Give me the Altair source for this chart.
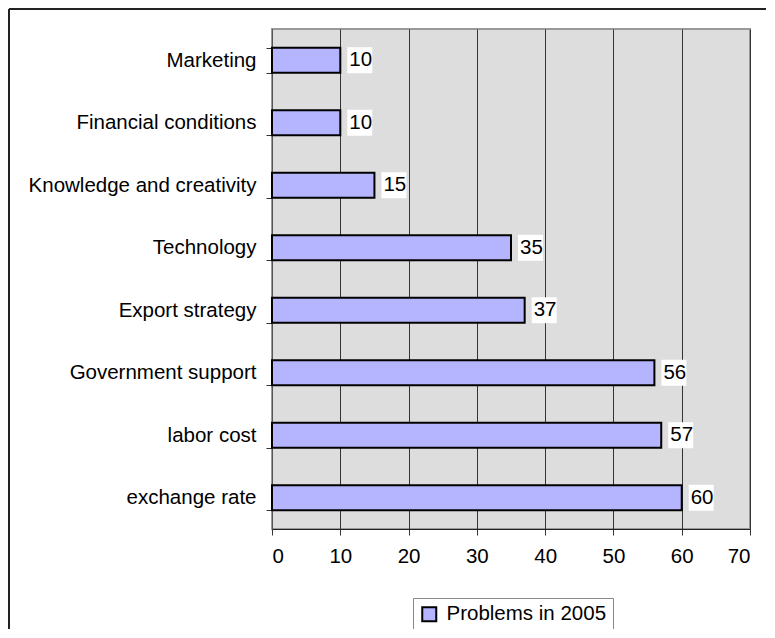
import altair as alt
import pandas as pd

categories = ["Marketing", "Financial conditions", "Knowledge and creativity",
              "Technology", "Export strategy", "Government support",
              "labor cost", "exchange rate"]
values = [10, 10, 15, 35, 37, 56, 57, 60]
series = "Problems in 2005"
x_ticks = [0, 10, 20, 30, 40, 50, 60, 70]

df = pd.DataFrame({"category": categories, "value": values, "series": [series] * len(categories)})

FONT = "Liberation Sans"
FS = 20.5

y_enc = alt.Y("category:N", sort=categories, title=None,
              scale=alt.Scale(paddingInner=0.6, paddingOuter=0.3),
              axis=alt.Axis(tickBand="extent", ticks=True, tickSize=6, tickColor="#333",
                            labelPadding=10, labelFontSize=FS, labelFont=FONT,
                            labelColor="black", domain=True, domainColor="#555",
                            grid=False, labelLimit=400))
x_enc = alt.X("value:Q", title=None,
              scale=alt.Scale(domain=[0, 70], nice=False),
              axis=alt.Axis(values=x_ticks, grid=True, gridColor="#333", gridWidth=1,
                            tickSize=6, tickColor="#333", domainColor="#222",
                            labelPadding=11, labelFontSize=FS, labelFont=FONT,
                            labelColor="black"))

base = alt.Chart(df)

bars = base.mark_bar(stroke="black", strokeWidth=2, size=25).encode(
    y=y_enc, x=x_enc,
    color=alt.Color("series:N", title=None,
                    scale=alt.Scale(domain=[series], range=["#B4B4FF"]),
                    legend=alt.Legend(orient="none", legendX=141, legendY=569,
                                      direction="horizontal", symbolType="square",
                                      symbolSize=196, symbolStrokeColor="black",
                                      symbolStrokeWidth=2, symbolFillColor="#B4B4FF",
                                      labelFontSize=FS, labelFont=FONT, labelColor="black",
                                      labelOffset=7, padding=6, strokeColor="#888",
                                      fillColor="white", labelLimit=400)),
)

boxes = base.mark_bar(color="white", size=26, xOffset=7, x2Offset=32).encode(
    y=alt.Y("category:N", sort=categories),
    x=alt.X("value:Q"),
    x2="value:Q",
)

labels = base.mark_text(align="left", baseline="middle", dx=9, fontSize=FS,
                        font=FONT, color="black").encode(
    y=alt.Y("category:N", sort=categories),
    x=alt.X("value:Q"),
    text="value:Q",
)

frame_df = pd.DataFrame({"a": [0]})
left_rule = alt.Chart(frame_df).mark_rule(color="#222", strokeWidth=2, clip=False).encode(
    x=alt.value(-263), y=alt.value(-20), y2=alt.value(600))
top_rule = alt.Chart(frame_df).mark_rule(color="#222", strokeWidth=2, clip=False).encode(
    y=alt.value(-20), x=alt.value(-263), x2=alt.value(494))

chart = alt.layer(bars, boxes, labels, left_rule, top_rule).properties(
    width=478, height=500,
    padding={"left": 264, "top": 21, "right": 16, "bottom": 100},
    autosize=alt.AutoSizeParams(type="none"),
    background="white",
).configure_view(fill="#DDDDDD", stroke="#999999", strokeWidth=2)

chart.save("out.html", embed_options={"renderer": "svg", "actions": False})
